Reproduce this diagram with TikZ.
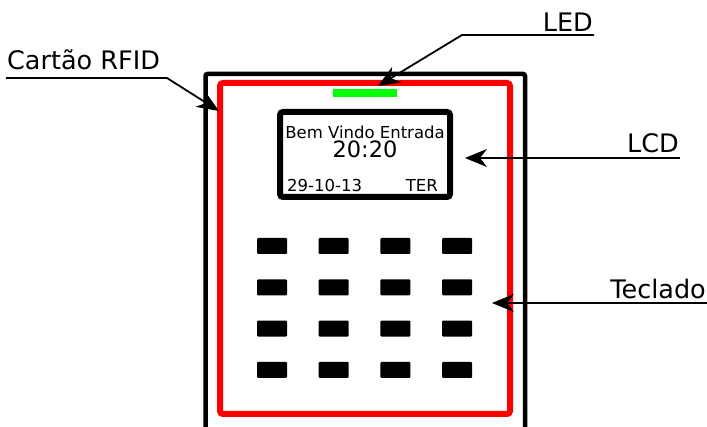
\documentclass[tikz,border=0pt]{standalone}
\usepackage{fontspec}
\setmainfont{DejaVu Sans}
\usetikzlibrary{arrows.meta}
\definecolor{ledgreen}{RGB}{0,255,0}
\definecolor{framered}{RGB}{255,0,0}

\tikzset{
    lbl/.style={font=\fontsize{25.5}{25}\selectfont, inner xsep=1pt, inner ysep=4pt},
    pointer/.style={line width=1.8pt, -{Stealth[length=22pt, width=18pt, inset=7pt]}},
    keybox/.style={fill=black, minimum width=30pt, minimum height=16pt, inner sep=0pt, rounded corners=1pt},
}

\begin{document}
\begin{tikzpicture}[x=1pt, y=-1pt]
    \useasboundingbox (0,0) rectangle (707,427);

    % Housing and antenna frame
    \draw[line width=4.5pt, rounded corners=2pt] (205.5,430) -- (205.5,74) -- (525,74) -- (525,430);
    \draw[framered, line width=6pt, rounded corners=3pt] (220,83) rectangle (510,414);

    % LED
    \fill[ledgreen] (333,89) rectangle (397,97);

    % LCD
    \node[draw, line width=6pt, rounded corners=3pt, minimum width=170pt, minimum height=85pt] (lcd) at (365,154.5) {};
    \node[anchor=base, font=\fontsize{16.5}{16}\selectfont, inner sep=0pt] (msg) at (365,139) {Bem Vindo Entrada};
    \node[anchor=base, font=\fontsize{22.5}{22}\selectfont, inner sep=0pt] (clock) at (365,158) {20:20};
    \node[anchor=base west, font=\fontsize{16.5}{16}\selectfont, inner sep=0pt] (date) at (287,192) {29-10-13};
    \node[anchor=base east, font=\fontsize{16.5}{16}\selectfont, inner sep=0pt] (day) at (438,192) {TER};

    % Keypad
    \foreach \r in {0,...,3}
        \foreach \c in {0,...,3}
            \node[keybox] (key-\r-\c) at ({272+61.7*\c},{246+41.3*\r}) {};

    % Labels
    \node[lbl, anchor=south west, inner ysep=8pt] (rfid) at (6,78) {Cartão RFID};
    \node[lbl, anchor=south east, inner ysep=3pt] (led) at (594,35) {LED};
    \node[lbl, anchor=south east, inner ysep=5pt] (lcdlbl) at (680,158) {LCD};
    \node[lbl, anchor=south east] (keylbl) at (707,303) {Teclado};

    \coordinate (rfid-bend) at (167,78);
    \coordinate (rfid-tip) at (219,111);
    \coordinate (led-bend) at (462,35);
    \coordinate (led-tip) at (378,86);
    \coordinate (lcd-tip) at (465,158);
    \coordinate (key-tip) at (492,303);

    \draw[pointer] (rfid.south west) -- (rfid-bend) -- (rfid-tip);
    \draw[pointer] (led.south east) -- (led-bend) -- (led-tip);
    \draw[pointer] (lcdlbl.south east) -- (lcd-tip);
    \draw[pointer] (keylbl.south east) -- (key-tip);
\end{tikzpicture}
\end{document}
